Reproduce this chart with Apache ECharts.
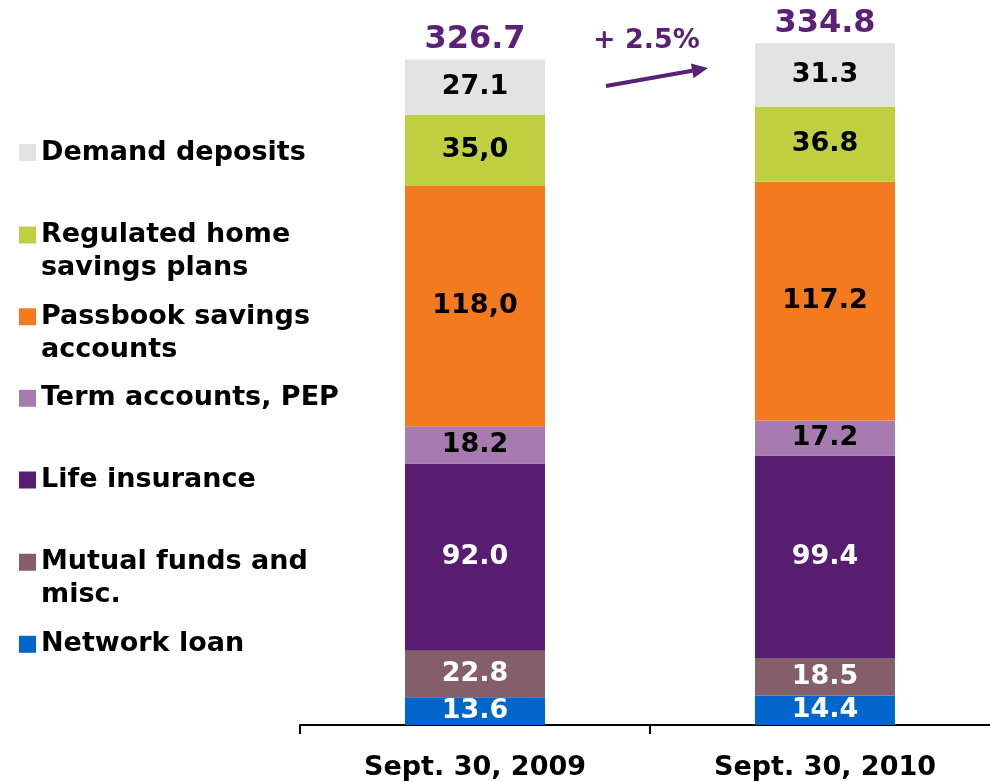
<!DOCTYPE html>
<html>
<head>
<meta charset="utf-8">
<script src="https://cdn.jsdelivr.net/npm/echarts@6/dist/echarts.min.js"></script>
<style>html,body{margin:0;padding:0;background:#fff;}#c{width:990px;height:782px;}</style>
</head>
<body>
<div id="c"></div>
<script>
const categories = ['Sept. 30, 2009', 'Sept. 30, 2010'];
const networkLoan = [13.6, 14.4];
const mutualFunds = [22.8, 18.5];
const lifeInsurance = [92.0, 99.4];
const termAccounts = [18.2, 17.2];
const passbookSavings = [118.0, 117.2];
const regulatedHome = [35.0, 36.8];
const demandDeposits = [27.1, 31.3];
const totals = [326.7, 334.8];
const growthLabel = '+ 2.5%';
// label texts as printed in the source (2009 shows comma decimals for two items)
const regulatedHomeText = ['35,0', '36.8'];
const passbookSavingsText = ['118,0', '117.2'];

const FONT = '"DejaVu Sans", Verdana, sans-serif';
const PURPLE = '#5B2176';

const seriesDefs = [
  {name: 'Network loan', data: networkLoan, color: '#0066CC', text: '#fff', legendCenter: 644.3, legendName: 'Network loan'},
  {name: 'Mutual funds and misc.', data: mutualFunds, color: '#845F6A', text: '#fff', legendCenter: 562.3, legendName: 'Mutual funds and\nmisc.'},
  {name: 'Life insurance', data: lifeInsurance, color: '#581C70', text: '#fff', legendCenter: 480, legendName: 'Life insurance'},
  {name: 'Term accounts, PEP', data: termAccounts, color: '#A77BAF', text: '#000', legendCenter: 398.3, legendName: 'Term accounts, PEP'},
  {name: 'Passbook savings accounts', data: passbookSavings, color: '#F47A20', text: '#000', legendCenter: 316.7, legendName: 'Passbook savings\naccounts', labels: passbookSavingsText},
  {name: 'Regulated home savings plans', data: regulatedHome, color: '#BFCF3F', text: '#000', legendCenter: 235, legendName: 'Regulated home\nsavings plans', labels: regulatedHomeText},
  {name: 'Demand deposits', data: demandDeposits, color: '#E2E4E3', text: '#000', legendCenter: 152.5, legendName: 'Demand deposits'}
];

const series = seriesDefs.map(d => ({
  name: d.name,
  type: 'bar',
  stack: 'total',
  barWidth: 140,
  data: d.data,
  itemStyle: {color: d.color},
  label: {
    show: true,
    position: 'inside',
    fontFamily: FONT,
    fontWeight: 'bold',
    fontSize: 27,
    color: d.text,
    formatter: p => d.labels ? d.labels[p.dataIndex] : p.value.toFixed(1)
  }
}));

series.push({
  name: 'Total',
  type: 'scatter',
  data: totals,
  symbolSize: 1,
  itemStyle: {color: 'rgba(0,0,0,0)', opacity: 1},
  z: 5,
  label: {
    show: true,
    position: 'top',
    distance: 3,
    opacity: 1,
    fontFamily: FONT,
    fontWeight: 'bold',
    fontSize: 32,
    color: PURPLE,
    formatter: p => p.value.toFixed(1)
  }
});

const legends = seriesDefs.map(d => {
  const twoLine = d.legendName.indexOf('\n') >= 0;
  return {
    show: true,
    orient: 'vertical',
    left: 19,
    top: d.legendCenter - 16.5,
    padding: 0,
    itemWidth: 17,
    itemHeight: twoLine ? 50 : 17,
    selectedMode: false,
    itemStyle: {borderWidth: 0},
    data: [{name: d.name, icon: twoLine ? 'path://M0,0h17v17h-17Z M0,50h17' : 'rect'}],
    formatter: () => d.legendName,
    textStyle: {fontFamily: FONT, fontWeight: 'bold', fontSize: 27, lineHeight: 33, color: '#000'}
  };
});

// arrow geometry
const tail = [606, 86], tip = [708, 68];
const ang = Math.atan2(tip[1] - tail[1], tip[0] - tail[0]);
const ux = Math.cos(ang), uy = Math.sin(ang), nx = -uy, ny = ux;
const headLen = 16, headHalf = 7.5;
const bx = tip[0] - headLen * ux, by = tip[1] - headLen * uy;

const chart = echarts.init(document.getElementById('c'), null, {renderer: 'canvas'});
chart.setOption({
  animation: false,
  backgroundColor: '#fff',
  legend: legends,
  grid: {left: 300, right: -10, top: 12, bottom: 57, containLabel: false, outerBoundsMode: 'none'},
  xAxis: {
    type: 'category',
    data: categories,
    axisLine: {show: true, lineStyle: {color: '#000', width: 2}},
    axisTick: {show: true, alignWithLabel: false, length: 9, lineStyle: {color: '#000', width: 2}},
    axisLabel: {fontFamily: FONT, fontWeight: 'bold', fontSize: 27, color: '#000', margin: 29}
  },
  yAxis: {type: 'value', min: 0, max: 350, show: false, splitLine: {show: false}},
  series: series,
  graphic: [
    {type: 'text', left: 593, top: 27, style: {text: growthLabel, fontFamily: FONT, fontWeight: 'bold', fontSize: 27, fill: PURPLE}},
    {type: 'line', shape: {x1: tail[0], y1: tail[1], x2: bx, y2: by}, style: {stroke: PURPLE, lineWidth: 4}},
    {type: 'polygon', shape: {points: [[tip[0], tip[1]], [bx + headHalf * nx, by + headHalf * ny], [bx - headHalf * nx, by - headHalf * ny]]}, style: {fill: PURPLE}}
  ]
});
</script>
</body>
</html>
